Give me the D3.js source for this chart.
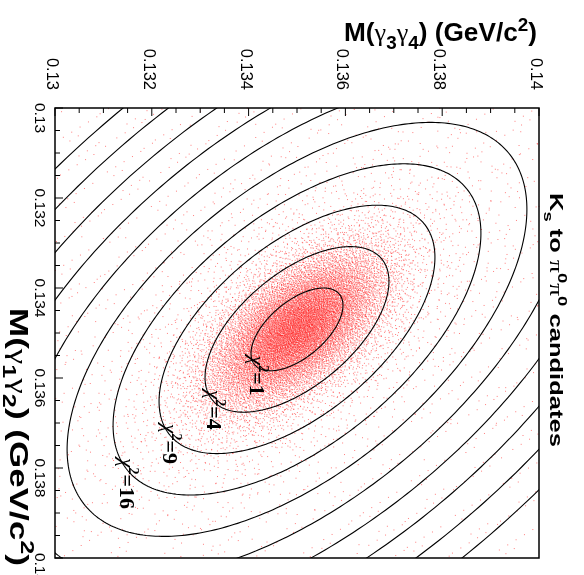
<!DOCTYPE html>
<html>
<head>
<meta charset="utf-8">
<script src="https://cdn.jsdelivr.net/npm/d3@7"></script>
<style>
body{margin:0;background:#fff;}
#chart{position:relative;width:584px;height:575px;}
#chart canvas,#chart svg{position:absolute;left:0;top:0;}
</style>
</head>
<body>
<div id="chart"></div>
<script>
// axis range and tick labels (both axes in GeV/c^2)
var massRange = [0.13, 0.14];
var tickValues = [0.13, 0.132, 0.134, 0.136, 0.138, 0.14];
var tickLabels = ["0.13", "0.132", "0.134", "0.136", "0.138", "0.14"];
var minorStep = 0.0005;

// chi2 contour levels (n sigma -> n^2, n = 1..10) and the ones carrying a label
var chi2Levels = [1, 4, 9, 16, 25, 36, 49, 64, 81, 100];
var labelledLevels = [1, 4, 9, 16];

// gaussian: [M(g3g4), M(g1g2)]
var fitMean = [0.13500, 0.13492];
var fitSigma = [0.00095, 0.00092];
var fitRho = -0.58;

// number of candidates drawn for core, tails and flat background
var nCore = 14000, nTail = 3000, nFlat = 1200;

var W = 584, H = 575;
var margin = {top: 108, right: 45, bottom: 17, left: 55};

var x = d3.scaleLinear().domain(massRange).range([margin.left, W - margin.right]);
var y = d3.scaleLinear().domain(massRange).range([margin.top, H - margin.bottom]);

var container = d3.select("#chart");

// ---- candidates (deterministic halton sequence, no Math.random) ----
function halton(i, b){
    var f = 1, r = 0;
    while(i > 0){ f /= b; r += f * (i % b); i = Math.floor(i / b); }
    return r;
}
function gaussPair(i, b1, b2){
    var u1 = halton(i, b1), u2 = halton(i, b2);
    var rr = Math.sqrt(-2 * Math.log(u1));
    return [rr * Math.cos(2 * Math.PI * u2), rr * Math.sin(2 * Math.PI * u2)];
}
function toMass(z, scale){
    var su = fitSigma[0] * scale, sv = fitSigma[1] * scale;
    return [fitMean[0] + su * z[0],
            fitMean[1] + sv * (fitRho * z[0] + Math.sqrt(1 - fitRho * fitRho) * z[1])];
}

var canvas = container.append("canvas").attr("width", W).attr("height", H).node();
var ctx = canvas.getContext("2d");
ctx.fillStyle = "rgba(255,0,0,0.5)";
function dot(m){
    var px = x(m[0]), py = y(m[1]);
    if(px < x.range()[0] || px > x.range()[1] || py < y.range()[0] || py > y.range()[1]) return;
    ctx.fillRect(px - 0.5, py - 0.5, 1, 1);
}
for(var i = 1; i <= nCore; i++) dot(toMass(gaussPair(i, 2, 3), 0.95));
for(var i = 1; i <= nTail; i++) dot(toMass(gaussPair(i, 5, 7), 2.0));
for(var i = 1; i <= nFlat; i++){
    dot([x.invert(x.range()[0] + halton(i, 11) * (x.range()[1] - x.range()[0])),
         y.invert(y.range()[0] + halton(i, 13) * (y.range()[1] - y.range()[0]))]);
}

// ---- svg ----
var svg = container.append("svg").attr("width", W).attr("height", H);

svg.append("clipPath").attr("id", "frame")
    .append("rect")
    .attr("x", x.range()[0]).attr("y", y.range()[0])
    .attr("width", x.range()[1] - x.range()[0])
    .attr("height", y.range()[1] - y.range()[0]);

function ellipsePoint(chi2, t){
    var n = Math.sqrt(chi2);
    return toMass([n * Math.cos(t), n * Math.sin(t)], 1);
}
function ellipsePoints(chi2){
    return d3.range(0, 360).map(function(k){ return ellipsePoint(chi2, k / 360 * 2 * Math.PI); });
}
var line = d3.line()
    .x(function(d){ return x(d[0]); })
    .y(function(d){ return y(d[1]); })
    .curve(d3.curveLinearClosed);

svg.append("g").attr("clip-path", "url(#frame)")
    .selectAll("path").data(chi2Levels).enter().append("path")
    .attr("d", function(d){ return line(ellipsePoints(d)); })
    .attr("fill", "none")
    .attr("stroke", "#000")
    .attr("stroke-width", 1.1);

// frame
svg.append("rect")
    .attr("x", x.range()[0]).attr("y", y.range()[0])
    .attr("width", x.range()[1] - x.range()[0])
    .attr("height", y.range()[1] - y.range()[0])
    .attr("fill", "none").attr("stroke", "#000").attr("stroke-width", 1.5);

// ticks on top and left
var minorTicks = d3.range(0, 21).map(function(i){ return massRange[0] + i * minorStep; });
function isMajor(v){ return Math.abs(Math.round(v / 0.002) * 0.002 - v) < 1e-7; }
svg.append("g").selectAll("line").data(minorTicks).enter().append("line")
    .attr("x1", function(d){ return x(d); }).attr("x2", function(d){ return x(d); })
    .attr("y1", y.range()[0]).attr("y2", function(d){ return y.range()[0] + (isMajor(d) ? 8 : 5); })
    .attr("stroke", "#000").attr("stroke-width", 1);
svg.append("g").selectAll("line").data(minorTicks).enter().append("line")
    .attr("y1", function(d){ return y(d); }).attr("y2", function(d){ return y(d); })
    .attr("x1", x.range()[0]).attr("x2", function(d){ return x.range()[0] + (isMajor(d) ? 8 : 5); })
    .attr("stroke", "#000").attr("stroke-width", 1);

// tick labels, rotated like the rest of the figure
svg.append("g").selectAll("text").data(tickValues).enter().append("text")
    .attr("transform", function(d){ return "translate(" + (x(d) - 8) + ",90) rotate(90)"; })
    .attr("text-anchor", "end")
    .attr("font-family", "Liberation Sans, Arial, sans-serif")
    .attr("font-size", 16.5)
    .text(function(d, i){ return tickLabels[i]; });
svg.append("g").selectAll("text").data(tickValues).enter().append("text")
    .attr("transform", function(d){ return "translate(35," + (y(d) + 10) + ") rotate(90)"; })
    .attr("text-anchor", "middle")
    .attr("font-family", "Liberation Sans, Arial, sans-serif")
    .attr("font-size", 15.5)
    .text(function(d, i){ return tickLabels[i]; });

// rich text helper: parts = [text, kind] kind: "", "sub", "sup", "greek"
function richText(g, parts, size, len){
    var t = g.append("text")
        .attr("font-family", "Liberation Sans, Arial, sans-serif")
        .attr("font-weight", "bold")
        .attr("font-size", size);
    if(len) t.attr("textLength", len).attr("lengthAdjust", "spacingAndGlyphs");
    var shift = 0;
    parts.forEach(function(p){
        var s = t.append("tspan").text(p[0]);
        var target = 0;
        if(p[1] === "sub"){ target = size * 0.3; s.attr("font-size", size * 0.72); }
        if(p[1] === "sup"){ target = -size * 0.42; s.attr("font-size", size * 0.72); }
        if(p[1] === "greek"){ s.attr("font-weight", "normal").attr("font-family", "Liberation Serif, serif"); }
        s.attr("dy", target - shift);
        shift = target;
    });
    return t;
}

// top title
richText(svg.append("g").attr("transform", "translate(344,41)"),
    [["M(", ""], ["\u03b3", "greek"], ["3", "sub"], ["\u03b3", "greek"], ["4", "sub"],
     [") (GeV/c", ""], ["2", "sup"], [")", ""]], 25, 193);

// left title
richText(svg.append("g").attr("transform", "translate(10,308) rotate(90)"),
    [["M(", ""], ["\u03b3", "greek"], ["1", "sub"], ["\u03b3", "greek"], ["2", "sub"],
     [") (GeV/c", ""], ["2", "sup"], [")", ""]], 25, 258);

// right title
richText(svg.append("g").attr("transform", "translate(550,193) rotate(90)"),
    [["K", ""], ["s", "sub"], [" to ", ""], ["\u03c0", "greek"], ["0", "sup"],
     ["\u03c0", "greek"], ["0", "sup"], [" candidates", ""]], 18.5, 254);

// chi2 labels sitting on the lower-left side of the labelled contours
var labelAngle = Math.PI - 0.35;
labelledLevels.forEach(function(c){
    var m = ellipsePoint(c, labelAngle);
    var g = svg.append("g")
        .attr("transform", "translate(" + (x(m[0]) - 4) + "," + (y(m[1]) - 8) + ") rotate(90)");
    var t = g.append("text")
        .attr("font-family", "Liberation Serif, serif")
        .attr("font-weight", "bold")
        .attr("font-size", 22);
    t.append("tspan").attr("font-weight", "normal").attr("font-style", "italic").text("\u03c7");
    t.append("tspan").attr("font-size", 14).attr("dy", -9).text("2");
    t.append("tspan").attr("dy", 9).text("=" + c);
});
</script>
</body>
</html>
